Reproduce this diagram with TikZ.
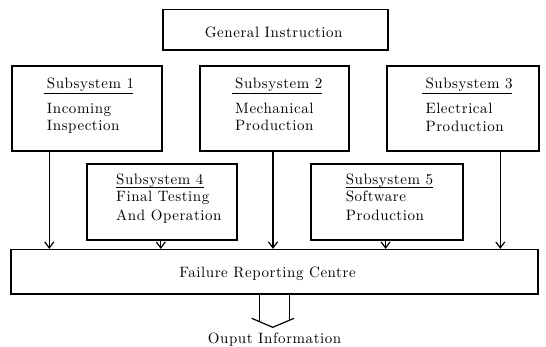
\documentclass[tikz,border=0pt]{standalone}
\usepackage{fontspec}
\usetikzlibrary{arrows.meta}
\newfontfamily\lmsp{lmroman10-regular.otf}[LetterSpace=3.7]
\newcommand\lmtext{\lmsp\fontsize{15}{18}\selectfont}
\begin{document}
\begin{tikzpicture}[x=1pt,y=-1pt,
  box/.style={draw,line width=1.2pt,inner sep=0pt},
  txt/.style={inner sep=0pt,anchor=base west,font=\lmtext},
  ctxt/.style={inner sep=0pt,anchor=base,font=\lmtext},
  uline/.style={line width=1pt},
  arr/.style={line width=1.2pt,-{Straight Barb[length=6pt,width=9pt,line width=1.2pt]}},
  big/.style={line width=1.2pt}]
\useasboundingbox[fill=white] (0,0) rectangle (546,346);
% boxes
\node[box,minimum width=225pt,minimum height=40.5pt] (gi) at (275.5,29.75) {};
\node[box,minimum width=150pt,minimum height=85pt] (s1) at (87,108.5) {};
\node[box,minimum width=149pt,minimum height=85pt] (s2) at (274.5,108.5) {};
\node[box,minimum width=152pt,minimum height=85pt] (s3) at (463,108.5) {};
\node[box,minimum width=150pt,minimum height=76pt] (s4) at (162,202) {};
\node[box,minimum width=152pt,minimum height=76pt] (s5) at (387,202) {};
\node[box,minimum width=527pt,minimum height=44.5pt] (fr) at (274.5,271.75) {};
% texts
\node[ctxt] (git) at (273.7,37.6) {General Instruction};
\node[txt] (h1) at (46.7,88) {Subsystem 1};
\node[txt] (b1a) at (46.7,113) {Incoming};
\node[txt] (b1b) at (46.7,130) {Inspection};
\node[txt] (h2) at (235,88) {Subsystem 2};
\node[txt] (b2a) at (235,113) {Mechanical};
\node[txt] (b2b) at (235,130) {Production};
\node[txt] (h3) at (425.3,88) {Subsystem 3};
\node[txt] (b3a) at (425.3,113) {Electrical};
\node[txt] (b3b) at (425.3,131) {Production};
\node[txt] (h4) at (116,184.3) {Subsystem 4};
\node[txt] (b4a) at (116,201.7) {Final Testing};
\node[txt] (b4b) at (116,220) {And Operation};
\node[txt] (h5) at (345.6,184.3) {Subsystem 5};
\node[txt] (b5a) at (345.6,201.7) {Software};
\node[txt] (b5b) at (345.6,220) {Production};
\node[ctxt] (frt) at (267.5,277.7) {Failure Reporting Centre};
\node[ctxt] (out) at (274.6,343) {Ouput Information};
% underlines
\foreach \h in {h1,h2,h3}
  \draw[uline] ([xshift=-3pt,yshift=-5.3pt]\h.base west) -- ([xshift=-1pt,yshift=-5.3pt]\h.base east);
\foreach \h in {h4,h5}
  \draw[uline] ([yshift=-3pt]\h.base west) -- ([yshift=-3pt]\h.base east);
% arrows into failure reporting centre
\draw[arr] ([xshift=-37.7pt]s1.south) -- ([xshift=-37.7pt]s1.south |- fr.north);
\draw[arr] ([xshift=-1.5pt]s2.south) -- ([xshift=-1.5pt]s2.south |- fr.north);
\draw[arr] ([xshift=37.3pt]s3.south) -- ([xshift=37.3pt]s3.south |- fr.north);
\draw[arr] ([xshift=-1.2pt]s4.south) -- ([xshift=-1.2pt]s4.south |- fr.north);
\draw[arr] ([xshift=-1.4pt]s5.south) -- ([xshift=-1.4pt]s5.south |- fr.north);
% output arrow
\coordinate (sl) at (259.3,321.4);
\coordinate (sr) at (289.3,321.4);
\coordinate (vl) at (251.7,318.3);
\coordinate (vt) at (272.7,327.3);
\coordinate (vr) at (294,318.3);
\draw[big] (fr.south -| sl) -- (sl);
\draw[big] (fr.south -| sr) -- (sr);
\draw[big,line join=miter] (vl) -- (vt) -- (vr);
\end{tikzpicture}
\end{document}
